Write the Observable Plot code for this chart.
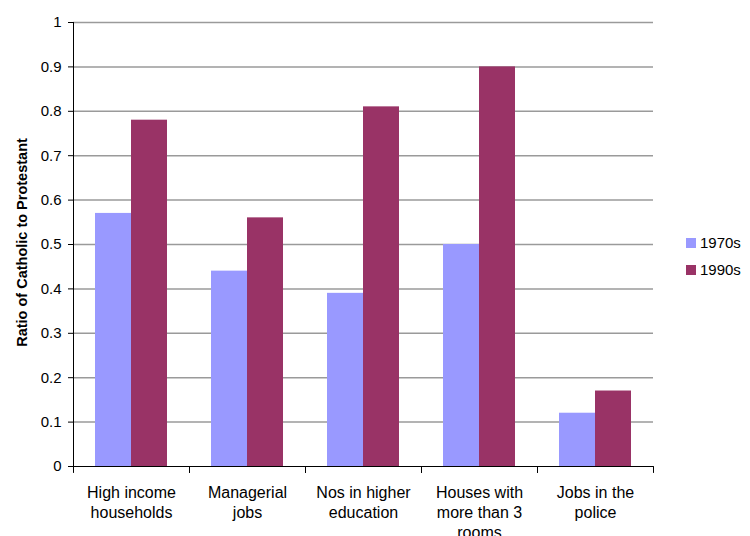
<!DOCTYPE html>
<html><head><meta charset="utf-8">
<script src="https://cdn.jsdelivr.net/npm/d3@7"></script>
<script src="https://cdn.jsdelivr.net/npm/@observablehq/plot@0.6"></script>
<style>
body{margin:0;background:#fff;font-family:"Liberation Sans",Arial,sans-serif;}
#wrap{position:relative;width:750px;height:536px;}
#legend{position:absolute;left:686px;top:229px;font-size:15px;color:#000;}
.row{display:flex;align-items:center;height:27px;}
.sw{width:10px;height:10px;margin-right:4px;}
</style></head><body>
<div id="wrap"><div id="chart"></div><div id="legend"></div></div>
<script>
const categories = ["High income households", "Managerial jobs", "Nos in higher education", "Houses with more than 3 rooms", "Jobs in the police"];
const categoryLabels = ["High income\nhouseholds", "Managerial\njobs", "Nos in higher\neducation", "Houses with\nmore than 3\nrooms", "Jobs in the\npolice"];
const series = ["1970s", "1990s"];
const values1970s = [0.57, 0.44, 0.39, 0.50, 0.12];
const values1990s = [0.78, 0.56, 0.81, 0.90, 0.17];
const yTicks = [0, 0.1, 0.2, 0.3, 0.4, 0.5, 0.6, 0.7, 0.8, 0.9, 1];
const colors = ["#9999FF", "#993366"];
const yLabel = "Ratio of Catholic to Protestant";

const data = categories.flatMap((c, i) => [
  {category: c, series: series[0], value: values1970s[i]},
  {category: c, series: series[1], value: values1990s[i]}
]);
const labelOf = new Map(categories.map((c, i) => [c, categoryLabels[i]]));

const chart = Plot.plot({
  width: 750, height: 536,
  marginTop: 22, marginBottom: 70, marginLeft: 72, marginRight: 97,
  style: {fontFamily: "'Liberation Sans', Arial, sans-serif", fontSize: "15px", color: "#000", background: "#fff"},
  fx: {domain: categories, padding: 0, label: null, axis: null},
  x: {domain: series, paddingInner: 0, paddingOuter: 0.6, axis: null},
  y: {domain: [0, 1], label: null},
  color: {domain: series, range: colors},
  marks: [
    Plot.ruleY(yTicks.slice(1), {stroke: "#9a9a9a", strokeWidth: 1.5}),
    Plot.barY(data, {fx: "category", x: "series", y: "value", fill: "series"}),
    Plot.ruleY([0], {stroke: "#000"}),
    Plot.frame({anchor: "left", facetAnchor: "left", stroke: "#000"}),
    Plot.axisY(yTicks, {tickFormat: d => String(d), tickSize: 5, tickPadding: 7, label: null, fontSize: 15, stroke: "#000"}),
    Plot.axisFx({anchor: "bottom", tickSize: 0, tickPadding: 17, tickFormat: c => labelOf.get(c), lineHeight: 1.25, label: null, fontSize: 16}),
    Plot.vector([0], {frameAnchor: "bottom-left", length: 6, rotate: 180, anchor: "start", stroke: "#000", strokeWidth: 1,
      shape: {draw(ctx, l) { ctx.moveTo(0, 0); ctx.lineTo(0, -l); }}}),
    Plot.vector([0], {frameAnchor: "bottom-right", length: 6, rotate: 180, anchor: "start", stroke: "#000", strokeWidth: 1,
      shape: {draw(ctx, l) { ctx.moveTo(0, 0); ctx.lineTo(0, -l); }}}),
    Plot.text([yLabel], {frameAnchor: "left", facetAnchor: "left", textAnchor: "middle", rotate: -90, dx: -51, dy: -2, fontWeight: "bold", fontSize: 14.5})
  ]
});
document.getElementById("chart").append(chart);

const legend = document.getElementById("legend");
series.forEach((s, i) => {
  const row = document.createElement("div");
  row.className = "row";
  row.innerHTML = `<div class="sw" style="background:${colors[i]}"></div><span>${s}</span>`;
  legend.append(row);
});
</script>
</body></html>
